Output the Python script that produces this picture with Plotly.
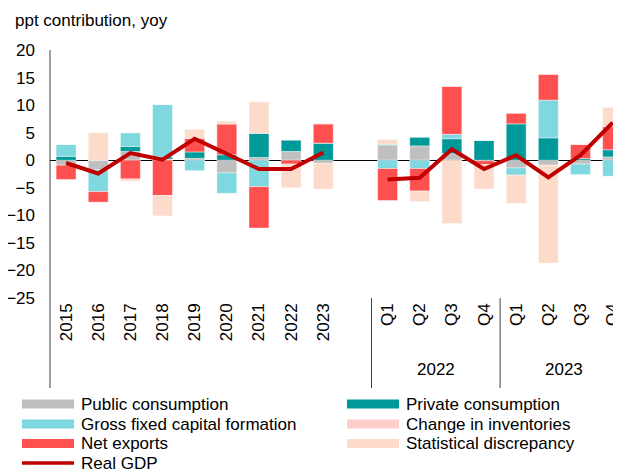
import plotly.graph_objects as go

# ---- data ----
periods = ["2015", "2016", "2017", "2018", "2019", "2020", "2021", "2022", "2023",
           "Q1", "Q2", "Q3", "Q4", "Q1", "Q2", "Q3", "Q4"]
quarter_groups = ["2022", "2023"]
n_annual = 9

public_consumption = [-0.9, -1.7, 1.6, 0.2, 0.35, -2.3, 0.5, 1.6, -0.55,
                      2.7, 2.6, 1.2, -0.1, -1.4, -0.9, -0.7, 0.6]
private_consumption = [0.7, -0.1, 0.9, 0.4, 1.15, 1.0, 4.4, 2.1, 3.1,
                       0.2, 1.6, 2.7, 3.6, 6.6, 4.05, 0.3, 1.3]
gross_fixed_capital = [2.2, -3.9, 2.5, 9.5, -1.9, -3.7, -4.8, 0.0, 0.0,
                       -1.5, -1.5, 0.8, 0.0, -1.3, 6.85, -1.9, -2.9]
net_exports = [-2.6, -1.9, -3.4, -6.4, 2.5, 5.6, -7.5, -0.7, 3.5,
               -5.8, -4.1, 8.7, -0.7, 1.95, 4.7, 2.6, 4.2]
change_in_inventories = [0.0] * 17
statistical_discrepancy = [0.0, 5.0, -0.4, -3.7, 1.6, 0.5, 5.7, -4.3, -4.7,
                           0.85, -1.9, -11.5, -4.4, -5.15, -17.75, 0.0, 3.5]
real_gdp = [-0.5, -2.4, 1.3, 0.1, 3.9, 1.2, -1.6, -1.6, 1.4,
            -3.5, -3.2, 2.0, -1.6, 0.9, -3.1, 0.9, 6.8]

series = [
    ("Public consumption", public_consumption, "#BFBFBF"),
    ("Private consumption", private_consumption, "#009999"),
    ("Gross fixed capital formation", gross_fixed_capital, "#7FD7E0"),
    ("Net exports", net_exports, "#FF5050"),
    ("Change in inventories", change_in_inventories, "#FFCCCC"),
    ("Statistical discrepancy", statistical_discrepancy, "#FCDBCB"),
]
gdp_name, gdp_color = "Real GDP", "#C00000"

# legend layout order (two columns, row by row)
legend_order = ["Public consumption", "Private consumption",
                "Gross fixed capital formation", "Change in inventories",
                "Net exports", "Statistical discrepancy", "Real GDP"]

# x positions: annual block, one empty slot, quarterly block
xpos = list(range(n_annual)) + [i + 1 for i in range(n_annual, len(periods))]

FONT = "Arial, Liberation Sans, sans-serif"
FS = 17
fig = go.Figure()

for name, vals, color in series:
    fig.add_trace(go.Bar(x=xpos, y=vals, name=name,
                         marker=dict(color=color, line=dict(width=0.75, color="rgba(255,255,255,0.55)")),
                         showlegend=False))

gdp_x = xpos[:n_annual] + [None] + xpos[n_annual:]
gdp_y = real_gdp[:n_annual] + [None] + real_gdp[n_annual:]
fig.add_trace(go.Scatter(x=gdp_x, y=gdp_y, mode="lines", name=gdp_name,
                         line=dict(color=gdp_color, width=4), connectgaps=False,
                         showlegend=False))

# page has an 8px body margin: lay out in reference pixels, shifted by OFF
OFF = 8
W, H = 621 - OFF, 470 - OFF
L, T = 50 - OFF, 50 - OFF
plot_bottom = 298 - OFF
pw, ph = W - L, plot_bottom - T
px2x = lambda px: (px - OFF - L) / pw
py2y = lambda py: (plot_bottom - (py - OFF)) / ph
slot_px = 32.15
x_max = -0.5 + pw / slot_px

shapes = [
    dict(type="line", xref="paper", yref="paper", x0=0, x1=0, y0=1, y1=py2y(388),
         line=dict(color="#404040", width=1)),
]
for sep in (n_annual + 0.5, n_annual + 4.5):
    shapes.append(dict(type="line", xref="x", yref="paper", x0=sep, x1=sep,
                       y0=0, y1=py2y(388), line=dict(color="#404040", width=1)))

annotations = []
for gi, g in enumerate(quarter_groups):
    annotations.append(dict(x=n_annual + 2.5 + 4 * gi, y=py2y(369), xref="x", yref="paper",
                            text=g, showarrow=False, font=dict(size=FS, color="#000000"),
                            xanchor="center", yanchor="middle"))

# manual legend
colors = {n: c for n, _, c in series}
colors[gdp_name] = gdp_color
row_y = [404, 424, 443.5, 463]
col_x = [22, 347]
for i, name in enumerate(legend_order):
    r, c = divmod(i, 2)
    x0, yc = col_x[c], row_y[r]
    if name == gdp_name:
        shapes.append(dict(type="line", xref="paper", yref="paper",
                           x0=px2x(x0), x1=px2x(x0 + 52), y0=py2y(yc), y1=py2y(yc),
                           line=dict(color=colors[name], width=3.5)))
    else:
        shapes.append(dict(type="rect", xref="paper", yref="paper",
                           x0=px2x(x0), x1=px2x(x0 + 52), y0=py2y(yc - 4.5), y1=py2y(yc + 4.5),
                           fillcolor=colors[name], line=dict(width=0)))
    annotations.append(dict(x=px2x(x0 + 57), y=py2y(yc), xref="paper", yref="paper",
                            text=name, showarrow=False, xanchor="left", yanchor="middle",
                            font=dict(size=FS, color="#000000")))

fig.update_layout(
    width=W, height=H,
    margin=dict(l=L, r=0, t=T, b=H - plot_bottom, autoexpand=False),
    plot_bgcolor="white", paper_bgcolor="white",
    barmode="relative", bargap=0.38,
    showlegend=False,
    font=dict(family=FONT, size=FS, color="#000000"),
    title=dict(text="ppt contribution, yoy", x=(15 - OFF) / W, y=1 - (20 - OFF) / H,
               xanchor="left", yanchor="middle", font=dict(size=FS)),
    xaxis=dict(range=[-0.5, x_max], tickvals=xpos, ticktext=periods, tickangle=-90,
               showgrid=False, zeroline=False, showline=False, ticks="",
               ticklabelstandoff=1, ticklabeloverflow="allow", tickfont=dict(size=FS)),
    yaxis=dict(range=[-25, 20], dtick=5, showgrid=False, zeroline=True,
               zerolinecolor="#000000", zerolinewidth=1, showline=False, ticks="",
               ticklabelstandoff=14, ticklabeloverflow="allow", tickfont=dict(size=FS)),
    shapes=shapes, annotations=annotations,
)

fig.write_html("out.html")
